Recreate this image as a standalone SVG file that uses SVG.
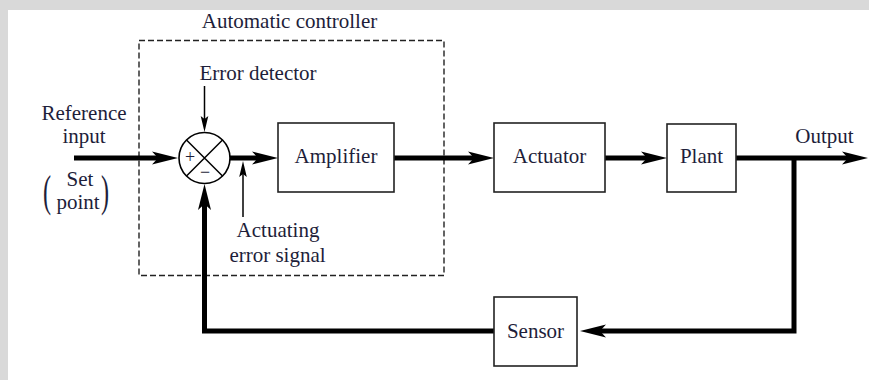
<svg xmlns="http://www.w3.org/2000/svg" width="869" height="380" viewBox="0 0 869 380">
  <style>
    .lbl { font-family: "Liberation Serif", "Times New Roman", serif; font-size: 21px; fill: #1e1e3a; }
    .mid { text-anchor: middle; }
    .box { fill: #ffffff; stroke: #222222; stroke-width: 1.6; }
    .thick { fill: none; stroke: #000000; stroke-width: 5; stroke-linejoin: miter; }
    .thin { fill: none; stroke: #000000; stroke-width: 1.5; }
    .dash { fill: none; stroke: #222222; stroke-width: 1.4; stroke-dasharray: 6 3; }
  </style>
  <defs>
    <marker id="arrowBold" markerUnits="userSpaceOnUse" viewBox="-20 -10 40 20" markerWidth="40" markerHeight="20" refX="0" refY="0" orient="auto" overflow="visible">
      <path d="M12,0 L-14,-6.5 L-8,0 L-14,6.5 Z" fill="#000000"/>
    </marker>
    <marker id="arrowThin" markerUnits="userSpaceOnUse" viewBox="-12 -6 24 12" markerWidth="24" markerHeight="12" refX="0" refY="0" orient="auto" overflow="visible">
      <path d="M8,0 L-8,-3.8 L-5,0 L-8,3.8 Z" fill="#000000"/>
    </marker>
  </defs>

  <!-- page background with grey margin -->
  <rect x="0" y="0" width="869" height="380" fill="#d9d9d9"/>
  <rect x="8" y="10" width="861" height="370" fill="#ffffff"/>

  <!-- automatic controller boundary -->
  <g id="controller">
    <rect class="dash" x="139" y="40.5" width="305" height="235"/>
    <text class="lbl mid" x="289.5" y="28">Automatic controller</text>
  </g>

  <!-- signal lines -->
  <g id="connectors">
    <path class="thick" d="M74,158 H166" marker-end="url(#arrowBold)"/>
    <path class="thick" d="M230,158 H266" marker-end="url(#arrowBold)"/>
    <path class="thick" d="M394,158 H482" marker-end="url(#arrowBold)"/>
    <path class="thick" d="M605,158 H655" marker-end="url(#arrowBold)"/>
    <path class="thick" d="M736,158 H856" marker-end="url(#arrowBold)"/>
    <path class="thick" d="M794,158 V331 H592" marker-end="url(#arrowBold)"/>
    <path class="thick" d="M494,331 H204.5 V196" marker-end="url(#arrowBold)"/>
    <path class="thin" d="M204.5,86 V124" marker-end="url(#arrowThin)"/>
    <path class="thin" d="M243,217 V169" marker-end="url(#arrowThin)"/>
  </g>

  <!-- summing junction -->
  <g id="error-detector">
    <circle cx="204.5" cy="158" r="25.5" fill="#ffffff" stroke="#000000" stroke-width="1.6"/>
    <path class="thin" d="M186.5,140 L222.5,176 M222.5,140 L186.5,176"/>
    <text class="lbl mid" x="190" y="163" style="font-size:18px">+</text>
    <text class="lbl mid" x="205" y="178" style="font-size:18px">−</text>
    <text class="lbl mid" x="258" y="80">Error detector</text>
  </g>

  <g id="amplifier">
    <rect class="box" x="278" y="123" width="116" height="69"/>
    <text class="lbl mid" x="336" y="163">Amplifier</text>
  </g>

  <g id="actuator">
    <rect class="box" x="494" y="123" width="111" height="69"/>
    <text class="lbl mid" x="549.5" y="163">Actuator</text>
  </g>

  <g id="plant">
    <rect class="box" x="667" y="124" width="69" height="68"/>
    <text class="lbl mid" x="701.5" y="163">Plant</text>
  </g>

  <g id="sensor">
    <rect class="box" x="494" y="297" width="83" height="69"/>
    <text class="lbl mid" x="535.5" y="338">Sensor</text>
  </g>

  <!-- signal labels -->
  <g id="reference-input">
    <text class="lbl mid" x="84" y="120">Reference</text>
    <text class="lbl mid" x="84" y="143">input</text>
    <text class="lbl mid" x="80" y="186">Set</text>
    <text class="lbl mid" x="78" y="209">point</text>
    <text class="lbl" transform="translate(43,206) scale(0.55,1)" style="font-size:44px">(</text>
    <text class="lbl" transform="translate(101,206) scale(0.55,1)" style="font-size:44px">)</text>
  </g>

  <g id="actuating-signal">
    <text class="lbl mid" x="278" y="237">Actuating</text>
    <text class="lbl mid" x="277.5" y="262">error signal</text>
  </g>

  <g id="output">
    <text class="lbl mid" x="824.5" y="143">Output</text>
  </g>
</svg>
